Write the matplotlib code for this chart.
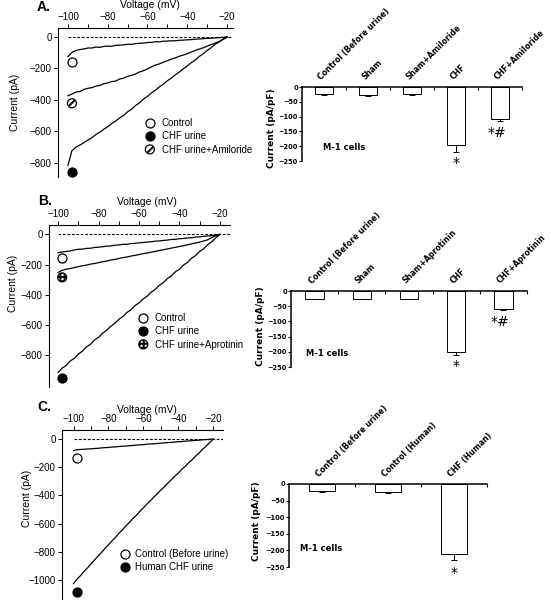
import matplotlib
matplotlib.use("Agg")
import matplotlib.pyplot as plt
from matplotlib.ticker import MultipleLocator

plt.rcParams['font.family'] = 'Liberation Sans'
plt.rcParams['hatch.linewidth'] = 1.4

W, H = 551, 600

#  DATA
# ramp voltages (mV) at which the traces were read off
volt = [-100, -98, -96, -94, -92, -90, -88, -86, -84, -82, -80, -78, -76, -74,
        -72, -70, -68, -66, -64, -62, -60, -58, -56, -54, -52, -50, -48, -46,
        -44, -42, -40, -38, -36, -34, -32, -30, -28, -26, -24, -22, -20]

# A. rat urine +/- amiloride (pA)
ctrl_a = [-125, -98, -86, -80, -76, -70, -70, -64, -66, -60, -58, -59, -53, -52,
          -50, -46, -47, -42, -40, -39, -35, -34, -30, -31, -27, -26, -24, -24,
          -21, -20, -18, -17, -14, -13, -11, -9, -8, -6, -4, -2, 0]
chf_a = [-815, -722, -700, -686, -671, -655, -640, -620, -605, -586, -570, -549,
         -534, -514, -498, -475, -459, -435, -418, -395, -377, -355, -338, -316,
         -300, -278, -261, -240, -223, -202, -184, -163, -146, -124, -107, -86,
         -68, -47, -32, -13, 0]
amil_a = [-373, -362, -350, -346, -333, -326, -322, -312, -308, -297, -292, -283,
          -280, -267, -262, -250, -244, -235, -222, -214, -203, -190, -178, -171,
          -160, -151, -140, -133, -122, -115, -106, -96, -86, -77, -69, -58, -48,
          -39, -29, -16, 0]

# B. rat urine +/- aprotinin (pA)
ctrl_b = [-122, -117, -113, -110, -103, -99, -98, -93, -92, -87, -85, -82, -78,
          -77, -72, -70, -66, -66, -61, -60, -56, -54, -51, -49, -45, -44, -40,
          -38, -34, -33, -29, -27, -24, -22, -18, -17, -13, -11, -8, -5, 0]
chf_b = [-915, -886, -868, -839, -821, -793, -774, -746, -728, -700, -682, -655,
         -635, -609, -590, -563, -545, -518, -500, -472, -455, -428, -410, -383,
         -365, -338, -320, -293, -275, -248, -231, -203, -186, -158, -140, -113,
         -95, -69, -49, -23, 0]
apro_b = [-252, -238, -231, -226, -220, -214, -208, -204, -197, -193, -187, -181,
          -177, -170, -166, -160, -154, -150, -144, -139, -134, -128, -124, -118,
          -113, -107, -102, -97, -91, -86, -80, -75, -69, -63, -57, -51, -44, -36,
          -20, -10, 0]

# C. human urine (pA)
ctrl_c = [-82, -76, -74, -73, -70, -70, -67, -66, -63, -61, -60, -57, -56, -53,
          -51, -50, -47, -46, -43, -41, -40, -37, -35, -34, -31, -30, -27, -25,
          -24, -21, -19, -18, -15, -13, -12, -9, -8, -5, -4, -2, 0]
chf_c = [-1025, -994, -969, -940, -914, -886, -858, -830, -805, -776, -750, -722,
         -698, -668, -644, -616, -591, -563, -540, -512, -488, -461, -438, -411,
         -387, -361, -339, -312, -289, -263, -241, -214, -193, -167, -145, -119,
         -97, -71, -49, -23, 0]

# mean current at -100 mV step (symbols)
mark_v = -98
pts_a = [-157, -855, -421]
pts_b = [-155, -950, -285]
pts_c = [-137, -1083]

leg_a = ['Control', 'CHF urine', 'CHF urine+Amiloride']
leg_b = ['Control', 'CHF urine', 'CHF urine+Aprotinin']
leg_c = ['Control (Before urine)', 'Human CHF urine']

# bar charts, whole-cell current density (pA/pF)
cats_a = ['Control (Before urine)', 'Sham', 'Sham+Amiloride', 'CHF', 'CHF+Amiloride']
mean_a = [-24, -27, -24, -196, -108]
err_a = [2, 2, 2, 22, 6]
star_a = ['', '', '', '*', '*#']

cats_b = ['Control (Before urine)', 'Sham', 'Sham+Aprotinin', 'CHF', 'CHF+Aprotinin']
mean_b = [-25, -25, -25, -201, -58]
err_b = [2, 2, 2, 8, 3]
star_b = ['', '', '', '*', '*#']

cats_c = ['Control (Before urine)', 'Control (Human)', 'CHF (Human)']
mean_c = [-22, -24, -210]
err_c = [2, 2, 18]
star_c = ['', '', '*']


#  HELPERS
def px_axes(fig, l, t, r, b):
    return fig.add_axes([l / W, 1 - b / H, (r - l) / W, (b - t) / H])


def iv_panel(ax, traces, pts, styles, labels, xlim, ylim, yticks,
             vlab_xy, ilab_xy, leg_xy, leg_pad):
    ax.plot([-100, xlim[1]], [0, 0], color='black', lw=0.8, ls=(0, (2.5, 1.5)))
    for tr in traces:
        ax.plot(volt, tr, color='black', lw=0.9)
    handles = []
    for val, (fc, hatch) in zip(pts, styles):
        h = ax.scatter([mark_v], [val], s=42, facecolor=fc, edgecolor='black',
                       linewidths=0.9, hatch=hatch, zorder=5, clip_on=False)
        handles.append(h)
    ax.set_xlim(*xlim)
    ax.set_ylim(*ylim)
    ax.spines['bottom'].set_visible(False)
    ax.spines['right'].set_visible(False)
    for s in ('left', 'top'):
        ax.spines[s].set_linewidth(0.8)
    ax.xaxis.tick_top()
    ax.set_xticks([-100, -80, -60, -40, -20])
    ax.xaxis.set_minor_locator(MultipleLocator(10))
    ax.set_yticks(yticks)
    ax.tick_params(which='both', direction='out', length=3, width=0.7,
                   labelsize=7, pad=1.5)
    ax.text(*vlab_xy, 'Voltage (mV)', transform=ax.transAxes, ha='center',
            va='center', fontsize=7.5)
    ax.text(*ilab_xy, 'Current (pA)', transform=ax.transAxes, ha='center',
            va='center', fontsize=7.5, rotation=90)
    ax.legend(handles, labels, loc='upper left', bbox_to_anchor=leg_xy,
              frameon=False, fontsize=7, borderpad=0, borderaxespad=0,
              handlelength=1.0, handletextpad=leg_pad, labelspacing=0.35,
              scatteryoffsets=[0.5])


def bar_panel(ax, cats, means, errs, stars, bw, cell_x, cell_y, ylab_xy):
    x = list(range(len(cats)))
    ax.bar(x, means, width=bw, color='white', edgecolor='black', linewidth=0.7)
    lower = errs
    upper = [0] * len(errs)
    ax.errorbar(x, means, yerr=[lower, upper], fmt='none', ecolor='black',
                elinewidth=0.7, capsize=2, capthick=0.7)
    ax.set_xlim(-0.5, len(cats) - 0.5)
    ax.set_ylim(-250, 0)
    ax.spines['bottom'].set_visible(False)
    ax.spines['right'].set_visible(False)
    for s in ('left', 'top'):
        ax.spines[s].set_linewidth(1.1)
    ax.xaxis.tick_top()
    ax.set_xticks([i + 0.5 for i in x])
    ax.set_xticklabels([])
    ax.tick_params(axis='x', direction='in', length=2.5, width=0.8)
    ax.set_yticks([0, -50, -100, -150, -200, -250])
    ax.tick_params(axis='y', direction='out', length=2, width=0.8, pad=1)
    for lb in ax.get_yticklabels():
        lb.set_family('DejaVu Sans')
        lb.set_fontweight('bold')
        lb.set_fontsize(4.8)
    for i, c in enumerate(cats):
        ax.annotate(c, xy=(i, 0), xytext=(-1, 4), textcoords='offset points',
                    rotation=45, rotation_mode='anchor', ha='left', va='bottom',
                    family='DejaVu Sans', fontweight='bold', fontsize=5.6,
                    annotation_clip=False)
    for i, (m, e, st) in enumerate(zip(means, errs, stars)):
        if not st:
            continue
        if st == '*':
            ax.text(i, m - e - 52, st, ha='center', va='baseline',
                    family='DejaVu Sans', fontsize=10, clip_on=False)
        else:
            ax.text(i - 0.08, m - e - 55, st, ha='center', va='baseline',
                    family='DejaVu Sans', fontsize=10, clip_on=False)
    ax.text(cell_x, cell_y, 'M-1 cells', ha='left', va='center',
            family='DejaVu Sans', fontweight='bold', fontsize=6)
    ax.text(*ylab_xy, 'Current (pA/pF)', transform=ax.transAxes, ha='center',
            va='center', rotation=90, family='DejaVu Sans', fontweight='bold',
            fontsize=6.5)


#  FIGURE
fig = plt.figure(figsize=(W / 100, H / 100), dpi=100)

open_s = ('white', None)
fill_s = ('black', None)

ax1 = px_axes(fig, 58, 28, 233, 177)
iv_panel(ax1, [ctrl_a, amil_a, chf_a], pts_a,
         [open_s, fill_s, ('white', '////')], leg_a,
         (-105, -17), (-889, 57), [0, -200, -400, -600, -800],
         (0.526, 1.154), (-0.246, 0.5), (0.497, 0.396), 0.75)

ax2 = px_axes(fig, 302, 87, 522, 161)
bar_panel(ax2, cats_a, mean_a, err_a, star_a, 0.42, -0.02, -206, (-0.14, 0.45))

ax3 = px_axes(fig, 49, 225, 230, 387)
iv_panel(ax3, [ctrl_b, apro_b, chf_b], pts_b,
         [open_s, fill_s, ('white', '++++')], leg_b,
         (-104.5, -15), (-1011, 62), [0, -200, -400, -600, -800],
         (0.54, 1.14), (-0.2, 0.64), (0.494, 0.457), 0.7)

ax4 = px_axes(fig, 291, 291, 527, 367)
bar_panel(ax4, cats_b, mean_b, err_b, star_b, 0.39, -0.19, -204, (-0.13, 0.54))

ax5 = px_axes(fig, 62, 430, 223, 600)
iv_panel(ax5, [ctrl_c, chf_c], pts_c, [open_s, fill_s], leg_c,
         (-106.6, -14.5), (-1142, 64), [0, -200, -400, -600, -800, -1000],
         (0.53, 1.118), (-0.215, 0.6), (0.361, 0.3), 0.55)

ax6 = px_axes(fig, 289, 484, 487, 567)
bar_panel(ax6, cats_c, mean_c, err_c, star_c, 0.39, -0.33, -194, (-0.165, 0.55))

for lbl, (px, py) in zip(['A.', 'B.', 'C.'], [(37, 0), (38, 194), (37, 400)]):
    fig.text(px / W, 1 - py / H, lbl, ha='left', va='top',
             fontsize=10, fontweight='bold')

fig.savefig('out.png', dpi=100)
